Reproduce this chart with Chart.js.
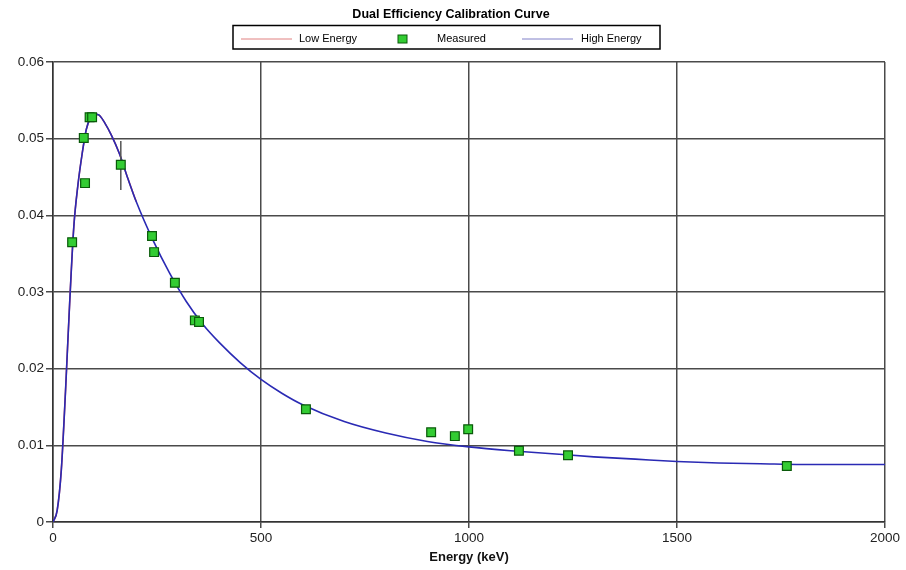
<!DOCTYPE html>
<html>
<head>
<meta charset="utf-8">
<script src="https://cdn.jsdelivr.net/npm/chart.js@4"></script>
<style>
  html, body { margin: 0; padding: 0; background: #fff; }
  #wrap { width: 906px; height: 570px; }
</style>
</head>
<body>
<div id="wrap"><canvas id="myChart" width="906" height="570"></canvas></div>
<script>
///////////// DATA /////////////

// measured calibration points (energy keV, efficiency)
const measuredEnergy = [46, 74, 77, 88, 94, 163, 238, 243, 293, 341, 351, 608, 909, 966, 998, 1120, 1238, 1764];
const measuredEff = [0.0365, 0.0501, 0.0442, 0.0528, 0.0528, 0.0466, 0.0373, 0.0352, 0.0312, 0.0263, 0.0261, 0.0147, 0.0117, 0.0112, 0.0121, 0.0093, 0.0087, 0.0073];

// fitted curves
const lowEnergyX = [0, 10, 20, 30, 40, 50, 60, 70, 80, 90, 100, 110, 125, 140, 160, 180, 200];
const lowEnergyY = [0, 0.0015, 0.0068, 0.017, 0.0285, 0.0385, 0.044, 0.048, 0.0512, 0.0527, 0.0532, 0.0531, 0.052, 0.0505, 0.048, 0.0448, 0.0418];

const highEnergyX = [0, 10, 20, 30, 40, 50, 60, 70, 80, 90, 100, 110, 125, 140, 160, 180, 200, 240, 280, 320, 360, 400, 450, 500, 550, 600, 700, 800, 900, 1000, 1100, 1200, 1300, 1400, 1500, 1600, 1700, 1800, 1900, 2000];
const highEnergyY = [0, 0.0015, 0.0068, 0.017, 0.0285, 0.0385, 0.044, 0.048, 0.0512, 0.0527, 0.0532, 0.0531, 0.052, 0.0505, 0.048, 0.0448, 0.0418, 0.0368, 0.0325, 0.0288, 0.0258, 0.0234, 0.0208, 0.0186, 0.0168, 0.0153, 0.0131, 0.0116, 0.0105, 0.0098, 0.0093, 0.0089, 0.0085, 0.0082, 0.0079, 0.0077, 0.0076, 0.0075, 0.0075, 0.0075];

// error bar on the 163 keV point
const errorBarX = [163, 163];
const errorBarY = [0.0497, 0.0433];

const xTicks = [0, 500, 1000, 1500, 2000];
const yTicks = [0, 0.01, 0.02, 0.03, 0.04, 0.05, 0.06];

const toPoints = (xs, ys) => xs.map((x, i) => ({ x, y: ys[i] }));
const FONT = '"Liberation Sans", Arial, sans-serif';

///////////// TITLE + BOXED LEGEND /////////////

const boxedLegend = {
  id: 'boxedLegend',
  afterDraw(chart) {
    const ctx = chart.ctx;
    ctx.save();
    ctx.fillStyle = '#000';
    ctx.textBaseline = 'middle';
    ctx.textAlign = 'center';
    ctx.font = 'bold 12.5px ' + FONT;
    ctx.fillText('Dual Efficiency Calibration Curve', 451, 15);

    ctx.strokeStyle = '#000';
    ctx.lineWidth = 1.5;
    ctx.strokeRect(233, 25.5, 427, 23.5);

    ctx.font = '11px ' + FONT;
    ctx.textAlign = 'left';
    const ds = chart.data.datasets;
    // low energy
    ctx.strokeStyle = '#e08080';
    ctx.lineWidth = 1;
    ctx.beginPath(); ctx.moveTo(241, 39); ctx.lineTo(292, 39); ctx.stroke();
    ctx.fillText(ds[0].label, 299, 39);
    // measured
    ctx.fillStyle = '#33cc33';
    ctx.fillRect(398, 35, 9, 8);
    ctx.strokeStyle = '#0a5a0a';
    ctx.strokeRect(398, 35, 9, 8);
    ctx.fillStyle = '#000';
    ctx.fillText(ds[1].label, 437, 39);
    // high energy
    ctx.strokeStyle = '#8080c8';
    ctx.beginPath(); ctx.moveTo(522, 39); ctx.lineTo(573, 39); ctx.stroke();
    ctx.fillText(ds[2].label, 581, 39);
    ctx.restore();
  }
};

///////////// CHART /////////////

const ctx = document.getElementById('myChart').getContext('2d');
new Chart(ctx, {
  type: 'scatter',
  data: {
    datasets: [
      {
        label: 'Low Energy',
        type: 'line',
        data: toPoints(lowEnergyX, lowEnergyY),
        borderColor: '#d04040',
        borderWidth: 1.5,
        pointRadius: 0,
        cubicInterpolationMode: 'monotone',
        order: 4
      },
      {
        label: 'Measured',
        data: toPoints(measuredEnergy, measuredEff),
        pointStyle: 'rect',
        pointRadius: 6.2,
        backgroundColor: '#33cc33',
        borderColor: '#0a5a0a',
        borderWidth: 1.2,
        order: 1
      },
      {
        label: 'High Energy',
        type: 'line',
        data: toPoints(highEnergyX, highEnergyY),
        borderColor: '#2a2ab4',
        borderWidth: 1.6,
        pointRadius: 0,
        cubicInterpolationMode: 'monotone',
        order: 3
      },
      {
        label: 'error',
        type: 'line',
        data: toPoints(errorBarX, errorBarY),
        borderColor: '#555',
        borderWidth: 1.5,
        pointRadius: 0,
        order: 2
      }
    ]
  },
  options: {
    responsive: false,
    animation: false,
    layout: { padding: { top: 62, right: 21, left: 0, bottom: 5 } },
    plugins: {
      legend: { display: false },
      title: { display: false },
      tooltip: { enabled: false }
    },
    scales: {
      x: {
        type: 'linear',
        min: 0, max: 2000,
        afterBuildTicks: s => { s.ticks = xTicks.map(v => ({ value: v })); },
        afterFit: s => { s.height = 43; },
        grid: { color: '#4a4a4a', lineWidth: 1.5, tickLength: 6 },
        border: { color: '#333', width: 1.5 },
        ticks: { color: '#222', font: { family: FONT, size: 13.5 }, padding: 2, maxRotation: 0, callback: v => String(v) },
        title: { display: true, text: 'Energy (keV)', color: '#111', font: { family: FONT, size: 13, weight: 'bold' }, padding: { top: 0, bottom: 0 } }
      },
      y: {
        min: 0, max: 0.06,
        afterBuildTicks: s => { s.ticks = yTicks.map(v => ({ value: v })); },
        afterFit: s => { s.width = 53; },
        grid: { color: '#4a4a4a', lineWidth: 1.5, tickLength: 7 },
        border: { color: '#333', width: 1.5 },
        ticks: { color: '#222', font: { family: FONT, size: 13.5 }, padding: 2, callback: v => String(v) }
      }
    }
  },
  plugins: [boxedLegend]
});
</script>
</body>
</html>
